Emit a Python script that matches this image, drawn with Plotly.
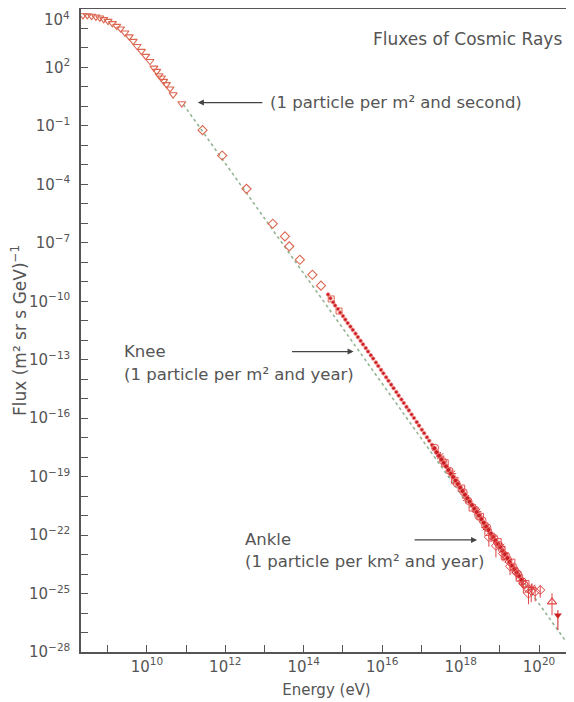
import plotly.graph_objects as go

# ---------------- data (log10 of energy in eV / log10 of flux) ----------------
# low-energy spectrum: open down-triangles
TRI_LOG_E = [8.37, 8.48, 8.59, 8.70, 8.80, 8.90, 9.01, 9.12, 9.23, 9.33, 9.44, 9.55, 9.65,
             9.75, 9.86, 9.97, 10.08, 10.18, 10.25, 10.31, 10.37, 10.43, 10.50, 10.59, 10.67, 10.89]
TRI_LOG_F = [4.67, 4.67, 4.64, 4.60, 4.55, 4.47, 4.38, 4.26, 4.12, 3.99, 3.78, 3.58, 3.35,
             3.09, 2.84, 2.58, 2.32, 1.98, 1.81, 1.59, 1.47, 1.30, 1.13, 0.91, 0.61, 0.15]

# open diamonds
DIA_LOG_E = [11.42, 11.92, 12.54, 13.21, 13.52, 13.63, 13.90, 14.22, 14.44]
DIA_LOG_F = [-1.22, -2.52, -4.23, -6.02, -6.67, -7.18, -7.87, -8.64, -9.20]

# knee region: small filled dots
KNEE_LOG_E = [14.62, 14.68, 14.75, 14.80, 14.87, 14.93, 15.00, 15.06, 15.12, 15.19, 15.25, 15.32,
              15.38, 15.45, 15.51, 15.58, 15.64, 15.71, 15.77, 15.84, 15.90, 15.97, 16.03, 16.10,
              16.16, 16.23, 16.29, 16.36, 16.42, 16.49, 16.55, 16.62, 16.68, 16.75, 16.81, 16.88,
              16.94, 17.01, 17.07, 17.14, 17.20, 17.27]
KNEE_LOG_F = [-9.65, -9.85, -10.05, -10.22, -10.40, -10.58, -10.76, -10.94, -11.12, -11.30, -11.47, -11.66,
              -11.84, -12.03, -12.21, -12.40, -12.58, -12.77, -12.94, -13.14, -13.32, -13.52, -13.70, -13.90,
              -14.08, -14.28, -14.46, -14.66, -14.84, -15.04, -15.22, -15.42, -15.60, -15.81, -15.99, -16.20,
              -16.38, -16.59, -16.77, -16.98, -17.16, -17.37]

# open squares near the start of the knee data
SQ_LOG_E = [14.70, 14.90]
SQ_LOG_F = [-9.88, -10.50]

# ankle region: dense filled dots
BAND_LOG_E = [17.33, 17.39, 17.45, 17.51, 17.57, 17.63, 17.69, 17.75, 17.81, 17.87, 17.93, 17.99,
              18.05, 18.11, 18.17, 18.23, 18.29, 18.35, 18.41, 18.47, 18.53, 18.59, 18.65, 18.71,
              18.77, 18.83, 18.89, 18.95, 19.01, 19.07, 19.13, 19.19, 19.25, 19.31, 19.37, 19.43,
              19.49, 19.55]
BAND_LOG_F = [-17.55, -17.75, -17.93, -18.12, -18.30, -18.47, -18.66, -18.85, -19.02, -19.20, -19.38, -19.57,
              -19.74, -19.93, -20.11, -20.29, -20.46, -20.65, -20.82, -21.00, -21.18, -21.37, -21.56, -21.74,
              -21.93, -22.10, -22.28, -22.45, -22.62, -22.80, -22.98, -23.18, -23.38, -23.57, -23.75, -23.93,
              -24.10, -24.30]

# ankle region: overlapping open circles
OC_LOG_E = [17.35, 17.55, 17.72, 17.90, 18.08, 18.20, 18.38, 18.45, 18.56, 18.62, 18.68, 18.80,
            18.86, 18.98, 19.05, 19.16, 19.22, 19.34, 19.40, 19.47, 19.58, 19.63, 19.72]
OC_LOG_F = [-17.52, -18.20, -18.70, -19.35, -19.80, -20.25, -20.70, -21.02, -21.25, -21.50, -21.60, -22.05,
            -22.15, -22.50, -22.72, -23.05, -23.30, -23.62, -23.85, -24.00, -24.38, -24.55, -24.78]

# ankle region: open squares / asterisks scattered across the band
SQ2_LOG_E = [17.60, 17.85, 18.02, 18.30, 18.50, 18.70, 18.95, 19.12, 19.30, 19.50, 19.66]
SQ2_LOG_F = [-18.30, -19.20, -19.60, -20.60, -21.05, -21.85, -22.35, -23.10, -23.40, -24.20, -24.50]
AST_LOG_E = [17.48, 17.78, 18.14, 18.42, 18.64, 18.84, 19.04, 19.20, 19.38, 19.56, 19.82]
AST_LOG_F = [-17.95, -18.85, -20.10, -20.80, -21.60, -22.20, -22.60, -23.25, -23.80, -24.35, -24.70]

# highest energies: open diamonds with error bars (errors in decades)
ERR_LOG_E = [18.72, 18.90, 19.08, 19.26, 19.42, 19.60, 19.73, 19.80, 19.90, 20.03]
ERR_LOG_F = [-22.10, -22.55, -22.95, -23.60, -23.90, -24.50, -25.00, -24.85, -24.90, -24.82]
ERR_UP = [0.25, 0.30, 0.20, 0.20, 0.25, 0.30, 0.30, 0.35, 0.30, 0.25]
ERR_DN = [0.50, 0.60, 0.40, 0.45, 0.40, 0.50, 0.55, 0.60, 0.50, 0.40]

# two last points
UPTRI_LOG_E = [20.33]
UPTRI_LOG_F = [-25.43]
UPTRI_UP = [0.44]
UPTRI_DN = [0.68]
DNTRI_LOG_E = [20.48]
DNTRI_LOG_F = [-26.11]
DNTRI_UP = [0.26]
DNTRI_DN = [0.77]

# reference power-law (dotted line) end points
LINE_LOG_E = [10.93, 20.84]
LINE_LOG_F = [0.10, -27.90]

# axis ticks
X_TICK_EXP = list(range(9, 21))
Y_TICK_EXP = list(range(-28, 5))
Y_LABEL_EXP = [-28, -25, -22, -19, -16, -13, -10, -7, -4, -1, 2]
TOP_LABEL = "10<sup>4</sup>"

# ---------------- figure ----------------
def lin(vals):
    return [10.0 ** v for v in vals]

def err_arrays(logf, up, dn):
    f = lin(logf)
    plus = [fi * (10.0 ** u - 1) for fi, u in zip(f, up)]
    minus = [fi * (1 - 10.0 ** (-d)) for fi, d in zip(f, dn)]
    return plus, minus

GRAY = "#555555"
FONT = "DejaVu Sans"
SALMON = "#dc6650"
DOT_RED = "#c81e22"

fig = go.Figure()

fig.add_trace(go.Scatter(x=lin(LINE_LOG_E), y=lin(LINE_LOG_F), mode="lines",
                         line=dict(color="#93b593", width=1.6, dash="dot"), hoverinfo="skip"))

fig.add_trace(go.Scatter(x=lin(TRI_LOG_E), y=lin(TRI_LOG_F), mode="markers",
                         marker=dict(symbol="triangle-down-open", size=7, color=SALMON, line=dict(width=1.1))))
fig.add_trace(go.Scatter(x=lin(DIA_LOG_E), y=lin(DIA_LOG_F), mode="markers",
                         marker=dict(symbol="diamond-open", size=7, color=SALMON, line=dict(width=1.1))))
fig.add_trace(go.Scatter(x=lin(SQ_LOG_E), y=lin(SQ_LOG_F), mode="markers",
                         marker=dict(symbol="square-open", size=6, color=SALMON, line=dict(width=1))))
fig.add_trace(go.Scatter(x=lin(KNEE_LOG_E), y=lin(KNEE_LOG_F), mode="markers",
                         marker=dict(symbol="circle", size=3.6, color=DOT_RED, line=dict(width=0.8, color="#f08080"))))
fig.add_trace(go.Scatter(x=lin(OC_LOG_E), y=lin(OC_LOG_F), mode="markers",
                         marker=dict(symbol="circle-open", size=7, color="#e05050", line=dict(width=1))))
fig.add_trace(go.Scatter(x=lin(SQ2_LOG_E), y=lin(SQ2_LOG_F), mode="markers",
                         marker=dict(symbol="square-open", size=6.5, color="#e05050", line=dict(width=1))))
fig.add_trace(go.Scatter(x=lin(AST_LOG_E), y=lin(AST_LOG_F), mode="markers",
                         marker=dict(symbol="asterisk-open", size=7, color="#d02828", line=dict(width=1, color="#d02828"))))
fig.add_trace(go.Scatter(x=lin(BAND_LOG_E), y=lin(BAND_LOG_F), mode="markers",
                         marker=dict(symbol="circle", size=4.8, color=DOT_RED, line=dict(width=0.8, color="#f08080"))))

p, m = err_arrays(ERR_LOG_F, ERR_UP, ERR_DN)
fig.add_trace(go.Scatter(x=lin(ERR_LOG_E), y=lin(ERR_LOG_F), mode="markers",
                         marker=dict(symbol="diamond-open", size=7, color="#e04545", line=dict(width=1)),
                         error_y=dict(type="data", symmetric=False, array=p, arrayminus=m,
                                      color="#e04545", thickness=1, width=0)))
p, m = err_arrays(UPTRI_LOG_F, UPTRI_UP, UPTRI_DN)
fig.add_trace(go.Scatter(x=lin(UPTRI_LOG_E), y=lin(UPTRI_LOG_F), mode="markers",
                         marker=dict(symbol="triangle-up-open", size=8, color="#e04545", line=dict(width=1.1)),
                         error_y=dict(type="data", symmetric=False, array=p, arrayminus=m,
                                      color="#e04545", thickness=1, width=0)))
p, m = err_arrays(DNTRI_LOG_F, DNTRI_UP, DNTRI_DN)
fig.add_trace(go.Scatter(x=lin(DNTRI_LOG_E), y=lin(DNTRI_LOG_F), mode="markers",
                         marker=dict(symbol="triangle-down", size=7, color="#cc2020"),
                         error_y=dict(type="data", symmetric=False, array=p, arrayminus=m,
                                      color="#cc2020", thickness=1, width=0)))

def exp_label(k):
    s = str(k).replace("-", "\u2212")
    return f"10<sup>{s}</sup>"

fig.update_xaxes(type="log", range=[8.32, 20.84],
                 tickvals=[10.0 ** k for k in X_TICK_EXP],
                 ticktext=[exp_label(k) if k % 2 == 0 else "" for k in X_TICK_EXP],
                 ticks="inside", ticklen=7, tickwidth=1.2, tickcolor=GRAY,
                 showline=True, linecolor=GRAY, linewidth=1.5, mirror=True,
                 showgrid=False, zeroline=False,
                 tickfont=dict(family=FONT, size=15, color=GRAY),
                 title=dict(text="Energy (eV)", font=dict(family=FONT, size=15, color=GRAY), standoff=10))
fig.update_yaxes(type="log", range=[-28, 5],
                 tickvals=[10.0 ** k for k in Y_TICK_EXP],
                 ticktext=[exp_label(k) if k in Y_LABEL_EXP else "" for k in Y_TICK_EXP],
                 ticks="inside", ticklen=7, tickwidth=1.2, tickcolor=GRAY,
                 showline=True, linecolor=GRAY, linewidth=1.5, mirror=True,
                 showgrid=False, zeroline=False, ticklabelstandoff=6,
                 tickfont=dict(family=FONT, size=15, color=GRAY),
                 title=dict(text="Flux (m² sr s GeV)<sup>\u22121</sup>",
                            font=dict(family=FONT, size=17, color=GRAY), standoff=4))

ann_font = dict(family=FONT, size=16.5, color=GRAY)
ARROW = "#444444"
annotations = [
    # title
    dict(text="Fluxes of Cosmic Rays", xref="paper", yref="paper", x=0.984, y=0.954,
         xanchor="right", yanchor="middle", showarrow=False, font=dict(family=FONT, size=17, color=GRAY)),
    # top y label (sits at the top corner of the axis)
    dict(text=TOP_LABEL, xref="paper", yref="paper", x=-0.02, y=1.0016,
         xanchor="right", yanchor="top", showarrow=False, borderpad=0,
         font=dict(family=FONT, size=15, color=GRAY)),
    # labels
    dict(text="(1 particle per m² and second)", x=13.09, y=0.20, xanchor="left", yanchor="middle",
         showarrow=False, font=ann_font),
    dict(text="Knee", x=9.355, y=-12.58, xanchor="left", yanchor="middle", showarrow=False, font=ann_font),
    dict(text="(1 particle per m² and year)", x=9.355, y=-13.78, xanchor="left", yanchor="middle",
         showarrow=False, font=ann_font),
    dict(text="Ankle", x=12.456, y=-22.22, xanchor="left", yanchor="middle", showarrow=False, font=ann_font),
    dict(text="(1 particle per km² and year)", x=12.456, y=-23.37, xanchor="left", yanchor="middle",
         showarrow=False, font=ann_font),
    # arrows
    dict(text="", x=11.30, y=0.20, ax=66, ay=0, showarrow=True, arrowhead=2, arrowsize=1,
         arrowwidth=1.2, arrowcolor=ARROW),
    dict(text="", x=15.27, y=-12.58, ax=-63, ay=0, showarrow=True, arrowhead=2, arrowsize=1,
         arrowwidth=1.2, arrowcolor=ARROW),
    dict(text="", x=18.42, y=-22.25, ax=-64, ay=0, showarrow=True, arrowhead=2, arrowsize=1,
         arrowwidth=1.2, arrowcolor=ARROW),
]

# the page body has an 8 px default margin, so the figure is sized to fill the rest of the window
fig.update_layout(width=566, height=694, margin=dict(l=73, r=2, t=1, b=50, autoexpand=False),
                  paper_bgcolor="white", plot_bgcolor="white", showlegend=False,
                  annotations=annotations, font=dict(family=FONT, color=GRAY))

fig.write_html("out.html")
